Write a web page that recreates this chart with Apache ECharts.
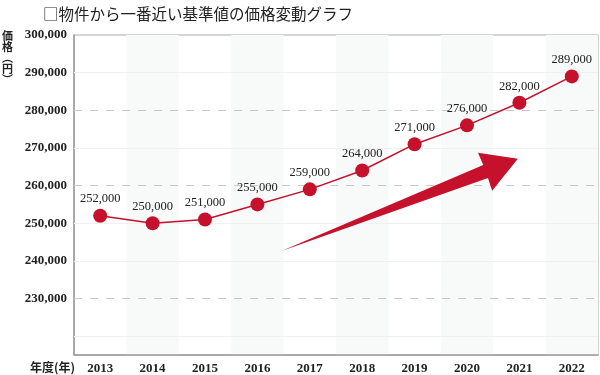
<!DOCTYPE html>
<html>
<head>
<meta charset="utf-8">
<script src="https://cdn.jsdelivr.net/npm/echarts@6/dist/echarts.min.js"></script>
<style>html,body{margin:0;padding:0;background:#fff}#c{width:600px;height:375px}</style>
</head>
<body>
<div id="c"></div>
<script>
const years = ['2013','2014','2015','2016','2017','2018','2019','2020','2021','2022'];
const prices = [252000, 250000, 251000, 255000, 259000, 264000, 271000, 276000, 282000, 289000];
const yLabelValues = [230000, 240000, 250000, 260000, 270000, 280000, 290000, 300000];
const dashedLines = [280000, 260000, 230000];
const faintLines = [290000, 270000, 250000, 240000, 220000];
const arrowX = [3.46, 7.31, 7.21, 7.97, 7.48, 7.40];
const arrowY = [242600, 265500, 268700, 267100, 258600, 262000];

const RED = '#c5112b';
const SERIF = '"Liberation Serif", "DejaVu Serif", serif';
const CJK = '"Noto Sans CJK JP", sans-serif';
const fmt = v => Number(v).toLocaleString('en-US');

const chart = echarts.init(document.getElementById('c'), null, {renderer: 'canvas'});
const markData = [
  ...faintLines.map(v => ({yAxis: v, lineStyle: {color: '#f0f0f0', type: 'solid', width: 1}})),
  ...dashedLines.map(v => ({yAxis: v, lineStyle: {color: '#c8c8c8', type: [8, 8], width: 1}}))
];
chart.setOption({
  animation: false,
  backgroundColor: '#fff',
  title: {
    text: '□物件から一番近い基準値の価格変動グラフ',
    left: 38, top: 1,
    textStyle: {fontFamily: CJK, fontSize: 15.5, fontWeight: 'normal', color: '#222'}
  },
  graphic: [
    {type: 'text', left: 2, top: 30, style: {text: '価\n格\n︵\n円\n︶', font: 'bold 11px ' + CJK, fill: '#222', lineHeight: 11}},
    {type: 'text', left: 30, top: 361, style: {text: '年度(年)', font: 'bold 12px ' + CJK, fill: '#222'}}
  ],
  grid: {left: 74, right: 2, top: 35, bottom: 20, show: true, borderColor: '#aaa', borderWidth: 1, containLabel: false, outerBoundsMode: 'none'},
  xAxis: [{
    type: 'category',
    data: years,
    boundaryGap: true,
    axisLine: {show: true, onZero: false, lineStyle: {color: '#9a9a9a', width: 1.5}},
    axisTick: {show: false},
    axisLabel: {margin: 7, fontFamily: SERIF, fontWeight: 'bold', fontSize: 13, color: '#222'},
    splitLine: {show: false},
    splitArea: {show: true, interval: 0, areaStyle: {color: ['rgba(255,255,255,0)', '#f8faf9']}}
  }, {
    type: 'value', min: -0.5, max: 9.5, show: false,
    axisLine: {show: false, onZero: false}, splitLine: {show: false}
  }],
  yAxis: {
    type: 'value',
    min: 215000, max: 300000,
    axisLine: {show: true, onZero: false, lineStyle: {color: '#9a9a9a', width: 1.5}},
    axisTick: {show: false},
    splitLine: {show: false},
    axisLabel: {
      customValues: yLabelValues,
      margin: 7, fontFamily: SERIF, fontWeight: 'bold', fontSize: 13, color: '#222',
      formatter: v => fmt(v)
    }
  },
  series: [{
    type: 'line',
    data: prices,
    xAxisIndex: 0,
    symbol: 'circle',
    symbolSize: 14,
    lineStyle: {color: RED, width: 1.5},
    itemStyle: {color: RED},
    label: {show: true, position: 'top', distance: 3, fontFamily: SERIF, fontSize: 12.5, color: '#222', formatter: p => fmt(p.value)},
    markLine: {silent: true, symbol: 'none', label: {show: false}, z: 1, data: markData},
    z: 3
  }, {
    type: 'custom',
    xAxisIndex: 1,
    yAxisIndex: 0,
    data: arrowX.map((x, i) => [x, arrowY[i]]),
    renderItem: function (params, api) {
      if (params.dataIndex !== 0) return null;
      const pts = arrowX.map((x, i) => api.coord([x, arrowY[i]]));
      return {type: 'polygon', shape: {points: pts}, style: {fill: RED}};
    },
    silent: true,
    z: 2
  }]
});
</script>
</body>
</html>
